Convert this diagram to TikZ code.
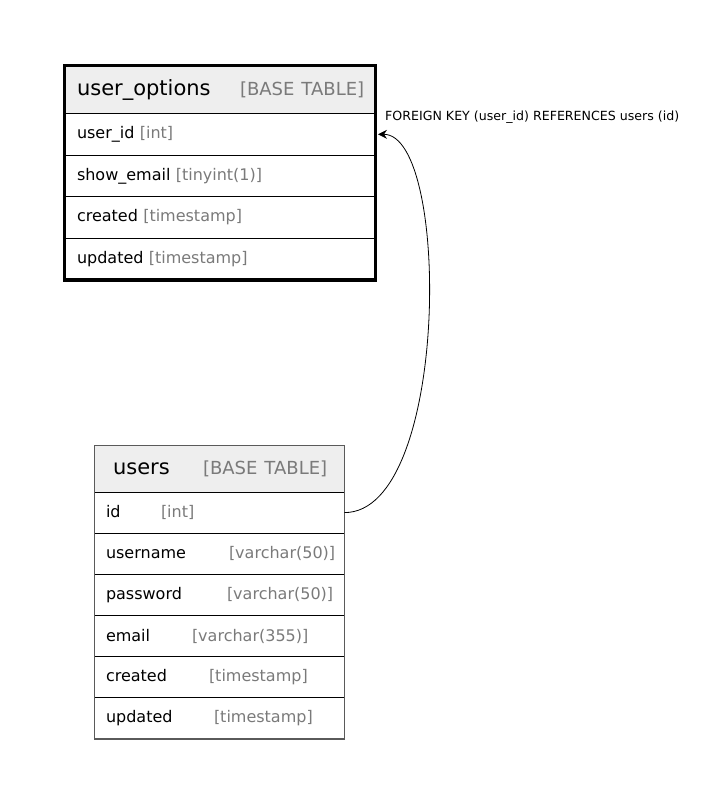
\documentclass[tikz,border=0pt]{standalone}
\usepackage{fontspec}
\setmainfont{DejaVu Sans}
\usetikzlibrary{arrows.meta}
\definecolor{hdr}{HTML}{EEEEEE}
\definecolor{typ}{HTML}{7A7A7A}
\definecolor{bord}{HTML}{5A5A5A}
\begin{document}
\begin{tikzpicture}[x=1pt,y=-1pt,
  uorow/.style={draw=black, line width=0.9pt, anchor=north west, inner ysep=0pt, outer sep=0pt,
    inner xsep=12.5pt, text width=286pt, align=left, minimum height=41.6pt,
    font=\fontsize{16}{19}\selectfont},
  uohead/.style={uorow, fill=hdr, minimum height=48pt, font=\fontsize{21}{24}\selectfont},
  usrow/.style={draw=black, line width=0.9pt, anchor=north west, inner ysep=0pt, outer sep=0pt,
    inner xsep=11.5pt, text width=227pt, align=left, minimum height=41.17pt,
    font=\fontsize{16}{19}\selectfont},
  ushead/.style={usrow, fill=hdr, inner xsep=18.5pt, text width=213pt,
    minimum height=46.5pt, font=\fontsize{21}{24}\selectfont},
  fklink/.style={draw=black, line width=0.8pt, -{Stealth[length=9pt,width=9pt,inset=3pt]}},
  fklabel/.style={anchor=west, inner sep=0pt, font=\fontsize{12.6}{15}\selectfont}
]
\useasboundingbox (0,0) rectangle (701,803);

% user_options table
\node[uohead] (uo-head) at (64.5,65.5) {\mbox{\makebox[163pt][l]{user\_options}{\fontsize{18}{20}\selectfont\color{typ}[BASE TABLE]}}};
\node[uorow] (uo-userid) at (uo-head.south west) {user\_id {\color{typ}[int]}};
\node[uorow] (uo-show) at (uo-userid.south west) {show\_email {\color{typ}[tinyint(1)]}};
\node[uorow] (uo-created) at (uo-show.south west) {created {\color{typ}[timestamp]}};
\node[uorow] (uo-updated) at (uo-created.south west) {updated {\color{typ}[timestamp]}};
\draw[line width=3.5pt, line join=miter] (uo-head.north west) rectangle (uo-updated.south east);

% users table
\node[ushead] (us-head) at (94.5,445.5) {\mbox{\makebox[90pt][l]{users}{\fontsize{18}{20}\selectfont\color{typ}[BASE TABLE]}}};
\node[usrow] (us-id) at (us-head.south west) {\makebox[55pt][l]{id}{\color{typ}[int]}};
\node[usrow] (us-username) at (us-id.south west) {\makebox[123pt][l]{username}{\color{typ}[varchar(50)]}};
\node[usrow] (us-password) at (us-username.south west) {\makebox[121pt][l]{password}{\color{typ}[varchar(50)]}};
\node[usrow] (us-email) at (us-password.south west) {\makebox[86pt][l]{email}{\color{typ}[varchar(355)]}};
\node[usrow] (us-created) at (us-email.south west) {\makebox[103pt][l]{created}{\color{typ}[timestamp]}};
\node[usrow] (us-updated) at (us-created.south west) {\makebox[108pt][l]{updated}{\color{typ}[timestamp]}};
\draw[draw=bord, line width=1.4pt] (us-head.north west) rectangle (us-updated.south east);

% foreign key connector
\draw[fklink] (us-id.east) .. controls +(105,0) and +(73,0) .. ([xshift=2.5pt]uo-userid.east);
\node[fklabel] (fk) at (385,117) {FOREIGN KEY (user\_id) REFERENCES users (id)};
\end{tikzpicture}
\end{document}
